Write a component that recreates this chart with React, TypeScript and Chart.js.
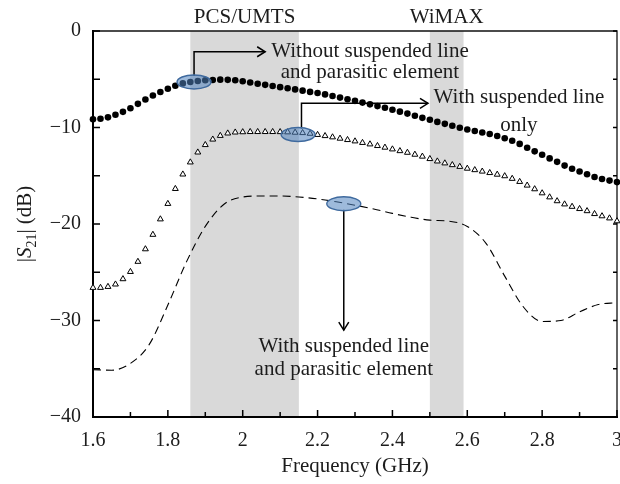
import { useEffect, useRef } from "react";
import { Chart, registerables } from "chart.js";

Chart.register(...registerables);

const SERIF = '"Liberation Serif", "Times New Roman", serif';
const INK = "#1c1c1c";

// Sweep points of the two marker traces (GHz)
const markerFreqs = [
  1.6, 1.62, 1.64, 1.66, 1.68, 1.7, 1.72, 1.74, 1.76, 1.78,
  1.8, 1.82, 1.84, 1.86, 1.88, 1.9, 1.92, 1.94, 1.96, 1.98,
  2.0, 2.02, 2.04, 2.06, 2.08, 2.1, 2.12, 2.14, 2.16, 2.18,
  2.2, 2.22, 2.24, 2.26, 2.28, 2.3, 2.32, 2.34, 2.36, 2.38,
  2.4, 2.42, 2.44, 2.46, 2.48, 2.5, 2.52, 2.54, 2.56, 2.58,
  2.6, 2.62, 2.64, 2.66, 2.68, 2.7, 2.72, 2.74, 2.76, 2.78,
  2.8, 2.82, 2.84, 2.86, 2.88, 2.9, 2.92, 2.94, 2.96, 2.98,
  3.0,
];

// |S21| without suspended line and parasitic element (dB)
const s21Plain = [
  -9.15, -9.09, -8.95, -8.68, -8.38, -8.0, -7.55, -7.1, -6.68, -6.32,
  -5.98, -5.67, -5.43, -5.28, -5.18, -5.11, -5.07, -5.04, -5.06, -5.1,
  -5.2, -5.33, -5.46, -5.58, -5.7, -5.82, -5.94, -6.05, -6.18, -6.31,
  -6.43, -6.57, -6.73, -6.9, -7.07, -7.24, -7.42, -7.6, -7.78, -7.96,
  -8.16, -8.36, -8.56, -8.78, -9.0, -9.2, -9.42, -9.62, -9.82, -10.02,
  -10.2, -10.36, -10.52, -10.68, -10.88, -11.12, -11.38, -11.7, -12.1, -12.47,
  -12.83, -13.2, -13.56, -13.95, -14.28, -14.56, -14.85, -15.13, -15.33, -15.5,
  -15.66,
];

// |S21| with suspended line only (dB)
const s21Suspended = [
  -26.6, -26.6, -26.5, -26.25, -25.7, -24.95, -23.9, -22.6, -21.1, -19.5,
  -17.9, -16.35, -14.85, -13.6, -12.57, -11.8, -11.23, -10.85, -10.6, -10.5,
  -10.47, -10.45, -10.45, -10.45, -10.45, -10.46, -10.48, -10.52, -10.56, -10.63,
  -10.75, -10.87, -11.0, -11.14, -11.28, -11.42, -11.58, -11.73, -11.9, -12.07,
  -12.25, -12.43, -12.6, -12.8, -13.0, -13.25, -13.5, -13.7, -13.88, -14.06,
  -14.25, -14.4, -14.55, -14.7, -14.87, -15.03, -15.3, -15.62, -16.0, -16.38,
  -16.8, -17.22, -17.62, -17.95, -18.2, -18.43, -18.65, -18.95, -19.18, -19.4,
  -19.7,
];

// |S21| with suspended line and parasitic element (dB), continuous trace
const lineFreqs = [
  1.6, 1.65, 1.7, 1.75, 1.8, 1.85, 1.9, 1.95, 2.0, 2.05,
  2.1, 2.15, 2.2, 2.25, 2.3, 2.35, 2.4, 2.45, 2.5, 2.55,
  2.6, 2.65, 2.7, 2.75, 2.8, 2.85, 2.9, 2.95, 3.0,
];
const s21Parasitic = [
  -35.1, -35.15, -34.45, -32.5, -28.4, -23.9, -20.25, -17.95, -17.2, -17.1,
  -17.1, -17.2, -17.4, -17.7, -18.05, -18.45, -18.9, -19.3, -19.6, -19.7,
  -20.25, -22.0, -25.4, -28.6, -30.1, -30.0, -29.1, -28.35, -28.15,
];

// Axis ticks
const xTicks = [1.6, 1.8, 2.0, 2.2, 2.4, 2.6, 2.8, 3.0];
const xTickLabels = ["1.6", "1.8", "2", "2.2", "2.4", "2.6", "2.8", "3"];
const xMinorTicks = [1.7, 1.9, 2.1, 2.3, 2.5, 2.7, 2.9];
const yTicks = [-40, -30, -20, -10, 0];
const yTickLabels = ["\u221240", "\u221230", "\u221220", "\u221210", "0"];
const yMinorTicks = [-35, -25, -15, -5];

// Service bands (GHz)
const bandNames = ["PCS/UMTS", "WiMAX"];
const bandStart = [1.86, 2.5];
const bandEnd = [2.15, 2.59];

// Callouts: highlighted spot on a trace, leader elbow/end and caption
const calloutSpotFreq = [1.87, 2.148, 2.27];
const calloutSpotLevel = [-5.28, -10.73, -17.9];
const calloutStemFreq = [1.87, 2.157, 2.27];
const calloutBendLevel = [-2.15, -7.49, -31.0];
const calloutEndFreq = [2.06, 2.495, 2.27];
const calloutDir = ["right", "right", "down"];
const calloutTextFreq = [2.34, 2.738, 2.27];
const calloutTextLevel = [
  [-2.66, -4.87],
  [-7.46, -10.36],
  [-33.23, -35.65],
];
const calloutText = [
  ["Without suspended line", "and parasitic element"],
  ["With suspended line", "only"],
  ["With suspended line", "and parasitic element"],
];

const pts = (xs: number[], ys: number[]) => xs.map((x, i) => ({ x, y: ys[i] }));

const decor = {
  id: "decor",
  beforeDraw(chart: any) {
    const { ctx, chartArea: a, scales } = chart;
    const x = scales.x;
    ctx.save();
    ctx.fillStyle = "#d9d9d9";
    bandStart.forEach((s, i) => {
      const x0 = x.getPixelForValue(s);
      const x1 = x.getPixelForValue(bandEnd[i]);
      ctx.fillRect(x0, a.top, x1 - x0, a.bottom - a.top);
    });
    ctx.restore();
  },
  beforeDatasetsDraw(chart: any) {
    const { ctx, chartArea: a, scales } = chart;
    const { x, y } = scales;
    ctx.save();
    ctx.strokeStyle = "#111";
    ctx.lineWidth = 1.3;
    ctx.beginPath();
    ctx.moveTo(a.left, a.top);
    ctx.lineTo(a.right, a.top);
    ctx.lineTo(a.right, a.bottom);
    ctx.stroke();

    ctx.strokeStyle = "#000";
    ctx.lineWidth = 1.5;
    ctx.beginPath();
    xTicks.forEach((v) => {
      const px = x.getPixelForValue(v);
      ctx.moveTo(px, a.bottom);
      ctx.lineTo(px, a.bottom - 7);
    });
    xMinorTicks.forEach((v) => {
      const px = x.getPixelForValue(v);
      ctx.moveTo(px, a.bottom);
      ctx.lineTo(px, a.bottom - 5);
    });
    [...yTicks, ...yMinorTicks].forEach((v) => {
      const py = y.getPixelForValue(v);
      ctx.moveTo(a.left, py);
      ctx.lineTo(a.left + 7, py);
      ctx.moveTo(a.right, py);
      ctx.lineTo(a.right - 4, py);
    });
    ctx.stroke();
    ctx.restore();
  },
  afterDatasetsDraw(chart: any) {
    const { ctx, chartArea: a, scales } = chart;
    const { x, y } = scales;
    ctx.save();

    // leaders and arrowheads
    const rx = 17;
    const ry = 7;
    ctx.strokeStyle = "#000";
    ctx.lineWidth = 1.5;
    calloutSpotFreq.forEach((_, i) => {
      const sx = x.getPixelForValue(calloutStemFreq[i]);
      const cy = y.getPixelForValue(calloutSpotLevel[i]);
      const by = y.getPixelForValue(calloutBendLevel[i]);
      ctx.beginPath();
      if (calloutDir[i] === "right") {
        const ex = x.getPixelForValue(calloutEndFreq[i]);
        ctx.moveTo(sx, cy - ry + 1);
        ctx.lineTo(sx, by);
        ctx.lineTo(ex, by);
        ctx.stroke();
        ctx.beginPath();
        ctx.moveTo(ex - 8, by - 5);
        ctx.lineTo(ex, by);
        ctx.lineTo(ex - 8, by + 5);
        ctx.stroke();
      } else {
        ctx.moveTo(sx, cy + ry - 1);
        ctx.lineTo(sx, by);
        ctx.stroke();
        ctx.beginPath();
        ctx.moveTo(sx - 5, by - 8);
        ctx.lineTo(sx, by);
        ctx.lineTo(sx + 5, by - 8);
        ctx.stroke();
      }
    });

    // highlighted spots
    calloutSpotFreq.forEach((f, i) => {
      const cx = x.getPixelForValue(f);
      const cy = y.getPixelForValue(calloutSpotLevel[i]);
      ctx.beginPath();
      ctx.ellipse(cx, cy, rx, ry, 0, 0, Math.PI * 2);
      ctx.fillStyle = "rgba(79,129,189,0.55)";
      ctx.fill();
      ctx.strokeStyle = "#3f6a9e";
      ctx.lineWidth = 1.4;
      ctx.stroke();
    });

    // captions
    ctx.fillStyle = INK;
    ctx.font = `21px ${SERIF}`;
    ctx.textAlign = "center";
    ctx.textBaseline = "alphabetic";
    calloutText.forEach((lines, i) => {
      const tx = x.getPixelForValue(calloutTextFreq[i]);
      lines.forEach((t, j) => {
        ctx.fillText(t, tx, y.getPixelForValue(calloutTextLevel[i][j]));
      });
    });

    // band names above the frame
    bandNames.forEach((n, i) => {
      const cx = (x.getPixelForValue(bandStart[i]) + x.getPixelForValue(bandEnd[i])) / 2;
      ctx.fillText(n, cx, a.top - 8);
    });

    // y-axis title |S21| (dB)
    const parts = [
      { t: "|", f: `21px ${SERIF}`, dy: 0 },
      { t: "S", f: `italic 21px ${SERIF}`, dy: 0 },
      { t: "21", f: `14px ${SERIF}`, dy: 5 },
      { t: "| (dB)", f: `21px ${SERIF}`, dy: 0 },
    ];
    let total = 0;
    const widths = parts.map((p) => {
      ctx.font = p.f;
      const w = ctx.measureText(p.t).width;
      total += w;
      return w;
    });
    ctx.translate(31, (a.top + a.bottom) / 2);
    ctx.rotate(-Math.PI / 2);
    ctx.textAlign = "left";
    let px = -total / 2;
    parts.forEach((p, i) => {
      ctx.font = p.f;
      ctx.fillText(p.t, px, p.dy);
      px += widths[i];
    });
    ctx.restore();
  },
};

export default function App() {
  const ref = useRef<HTMLCanvasElement | null>(null);

  useEffect(() => {
    if (!ref.current) return;
    const chart = new Chart(ref.current, {
      type: "line",
      data: {
        datasets: [
          {
            data: pts(markerFreqs, s21Plain),
            showLine: false,
            pointStyle: "circle",
            pointRadius: 3.3,
            pointBackgroundColor: "#000",
            pointBorderWidth: 0,
            clip: false,
          },
          {
            data: pts(markerFreqs, s21Suspended),
            showLine: false,
            pointStyle: "triangle",
            pointRadius: 3.4,
            pointBackgroundColor: "#fff",
            pointBorderColor: "#000",
            pointBorderWidth: 1,
            clip: false,
          },
          {
            data: pts(lineFreqs, s21Parasitic),
            borderColor: "#000",
            borderWidth: 1.1,
            borderDash: [8, 5],
            pointRadius: 0,
            cubicInterpolationMode: "monotone",
            fill: false,
          },
        ],
      } as any,
      options: {
        responsive: false,
        animation: false,
        events: [],
        layout: { padding: { top: 31, right: 3, left: 0, bottom: 0 }, autoPadding: false },
        plugins: { legend: { display: false }, tooltip: { enabled: false } },
        scales: {
          x: {
            type: "linear",
            min: 1.6,
            max: 3.0,
            afterFit: (s: any) => {
              s.height = 67;
              s.paddingLeft = 0;
              s.paddingRight = 0;
            },
            afterBuildTicks: (s: any) => {
              s.ticks = xTicks.map((v) => ({ value: v }));
            },
            ticks: {
              padding: 12,
              color: INK,
              font: { family: SERIF, size: 20 },
              maxRotation: 0,
              autoSkip: false,
              callback: (v: any) => xTickLabels[xTicks.findIndex((t) => Math.abs(t - v) < 1e-6)] ?? "",
            },
            grid: { display: false, drawTicks: false },
            border: { display: true, color: "#000", width: 2 },
            title: {
              display: true,
              text: "Frequency (GHz)",
              color: INK,
              font: { family: SERIF, size: 21 },
              padding: { top: 0, bottom: 5 },
            },
          },
          y: {
            type: "linear",
            min: -40,
            max: 0,
            afterFit: (s: any) => {
              s.width = 93;
              s.paddingTop = 0;
              s.paddingBottom = 0;
            },
            afterBuildTicks: (s: any) => {
              s.ticks = yTicks.map((v) => ({ value: v }));
            },
            ticks: {
              padding: 12,
              color: INK,
              font: { family: SERIF, size: 20 },
              callback: (v: any) => yTickLabels[yTicks.indexOf(Number(v))] ?? "",
            },
            grid: { display: false, drawTicks: false },
            border: { display: true, color: "#000", width: 2 },
          },
        },
      } as any,
      plugins: [decor],
    });
    return () => chart.destroy();
  }, []);

  return (
    <div style={{ position: "absolute", left: 0, top: 0, width: 620, height: 484, background: "#fff" }}>
      <canvas ref={ref} width={620} height={484} style={{ display: "block" }} />
    </div>
  );
}
